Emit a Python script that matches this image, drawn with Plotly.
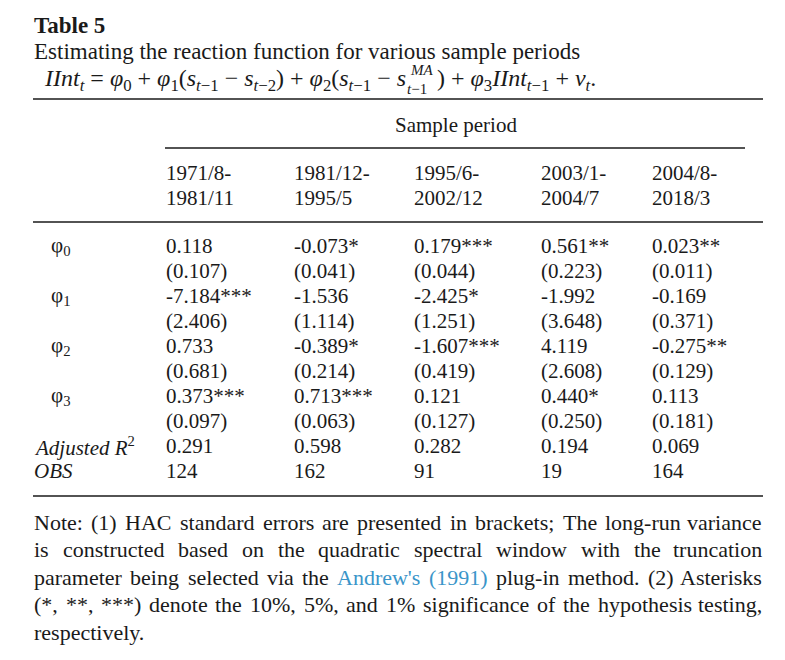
import plotly.graph_objects as go

# --- table content ---
period_start = ["1971/8-", "1981/12-", "1995/6-", "2003/1-", "2004/8-"]
period_end = ["1981/11", "1995/5", "2002/12", "2004/7", "2018/3"]

row_labels = ["φ<sub>0</sub>", "", "φ<sub>1</sub>", "", "φ<sub>2</sub>", "", "φ<sub>3</sub>", "",
              "<i>Adjusted R</i><sup>2</sup>", "<i>OBS</i>"]

phi0 = ["0.118", "-0.073*", "0.179***", "0.561**", "0.023**"]
phi0_se = ["(0.107)", "(0.041)", "(0.044)", "(0.223)", "(0.011)"]
phi1 = ["-7.184***", "-1.536", "-2.425*", "-1.992", "-0.169"]
phi1_se = ["(2.406)", "(1.114)", "(1.251)", "(3.648)", "(0.371)"]
phi2 = ["0.733", "-0.389*", "-1.607***", "4.119", "-0.275**"]
phi2_se = ["(0.681)", "(0.214)", "(0.419)", "(2.608)", "(0.129)"]
phi3 = ["0.373***", "0.713***", "0.121", "0.440*", "0.113"]
phi3_se = ["(0.097)", "(0.063)", "(0.127)", "(0.250)", "(0.181)"]
adj_r2 = ["0.291", "0.598", "0.282", "0.194", "0.069"]
obs = ["124", "162", "91", "19", "164"]

rows = [phi0, phi0_se, phi1, phi1_se, phi2, phi2_se, phi3, phi3_se, adj_r2, obs]

title = "<b>Table 5</b>"
subtitle = "Estimating the reaction function for various sample periods"
# equation split around the stacked s^MA_{t-1}
eq_left = ("<i>IInt<sub>t</sub></i> = <i>φ</i><sub>0</sub> + <i>φ</i><sub>1</sub>"
           "(<i>s</i><sub><i>t</i>−1</sub> − <i>s</i><sub><i>t</i>−2</sub>) + <i>φ</i><sub>2</sub>"
           "(<i>s</i><sub><i>t</i>−1</sub> − <i>s</i>")
eq_sup = "<i>MA</i>"
eq_sub = "<i>t</i>−1"
eq_right = ") + <i>φ</i><sub>3</sub><i>IInt</i><sub><i>t</i>−1</sub> + <i>ν<sub>t</sub></i>."

link = "Andrew's (1991)"
note_lines = [
    "Note: (1) HAC standard errors are presented in brackets; The long-run variance",
    "is constructed based on the quadratic spectral window with the truncation",
    "parameter being selected via the Andrew's (1991) plug-in method. (2) Asterisks",
    "(*, **, ***) denote the 10%, 5%, and 1% significance of the hypothesis testing,",
    "respectively.",
]

# --- layout constants (pixels of the 785x660 page) ---
W, H = 785, 660
OFF = 8  # default body margin of the html page
FONT = "Liberation Serif, Times New Roman, serif"
INK = "#1a1a1a"
LINK = "#3a95c9"
FS = 21
NFS = 22
EFS = 24
left, right = 33, 763
col_x = [165, 293, 413, 540, 651]
row_y0, row_dy = 246, 25
note_y0, note_dy = 522, 27.5

# Times-like advance widths (1/1000 em) to justify the note
CW = {" ": 250, "(": 333, ")": 333, "*": 500, ",": 250, "-": 333, ".": 250, ":": 278,
      ";": 278, "%": 833, "'": 180,
      "A": 722, "C": 667, "H": 722, "N": 722, "T": 611,
      "a": 444, "b": 500, "c": 444, "d": 500, "e": 444, "f": 333, "g": 500, "h": 500,
      "i": 278, "j": 278, "k": 500, "l": 278, "m": 778, "n": 500, "o": 500, "p": 500,
      "q": 500, "r": 333, "s": 389, "t": 278, "u": 500, "v": 500, "w": 722, "x": 500,
      "y": 500, "z": 444}


def text_w(s, size):
    return sum(CW.get(c, 500) for c in s) * size / 1000.0


fig = go.Figure()
ann = []


def txt(x, y, s, size=FS, color=INK, anchor="left"):
    ann.append(dict(x=x - 1 if anchor == "left" else x + 1, y=y, xref="x", yref="y",
                    text=s, showarrow=False, xanchor=anchor, yanchor="middle",
                    font=dict(family=FONT, size=size, color=color)))


txt(left, 25, title, size=23)
txt(left, 51, subtitle, size=23)
txt(407, 80, eq_left, size=EFS, anchor="right")
txt(409, 70, eq_sup, size=15)
txt(406, 89, eq_sub, size=15)
txt(436, 80, eq_right, size=EFS)

txt(455, 125, "Sample period", anchor="center")
for i in range(5):
    txt(col_x[i], 173, period_start[i])
    txt(col_x[i], 198, period_end[i])

for r, vals in enumerate(rows):
    y = row_y0 + r * row_dy
    lab = row_labels[r]
    if lab:
        txt(50 if lab.startswith("φ") else left, y, lab)
    for i, v in enumerate(vals):
        txt(col_x[i], y, v)

# note: justified lines, the last one left aligned
for k, line in enumerate(note_lines):
    y = note_y0 + k * note_dy
    if k == len(note_lines) - 1:
        txt(left, y, line, size=NFS)
        continue
    words = line.split(" ")
    colors = [INK] * len(words)
    if link in line:
        j = words.index("Andrew's")
        colors[j] = colors[j + 1] = LINK
    widths = [text_w(w, NFS) for w in words]
    gap = (right - left - sum(widths)) / (len(words) - 1)
    x = left
    for w, wd, c in zip(words, widths, colors):
        if w is words[-1]:
            txt(right, y, w, size=NFS, color=c, anchor="right")
        else:
            txt(x, y, w, size=NFS, color=c)
        x += wd + gap

shapes = [
    dict(type="line", x0=left, x1=right, y0=99, y1=99, line=dict(color=INK, width=1.6)),
    dict(type="line", x0=165, x1=745, y0=148, y1=148, line=dict(color=INK, width=1.4)),
    dict(type="line", x0=left, x1=right, y0=222, y1=222, line=dict(color=INK, width=1.6)),
    dict(type="line", x0=left, x1=right, y0=496, y1=496, line=dict(color=INK, width=1.6)),
]
for s in shapes:
    s.update(xref="x", yref="y")

fig.update_layout(
    width=W - OFF, height=H - OFF,
    margin=dict(l=0, r=0, t=0, b=0),
    paper_bgcolor="white", plot_bgcolor="white",
    xaxis=dict(range=[OFF, W], visible=False, fixedrange=True),
    yaxis=dict(range=[H, OFF], visible=False, fixedrange=True),
    annotations=ann, shapes=shapes, showlegend=False,
)

fig.write_html("out.html")
